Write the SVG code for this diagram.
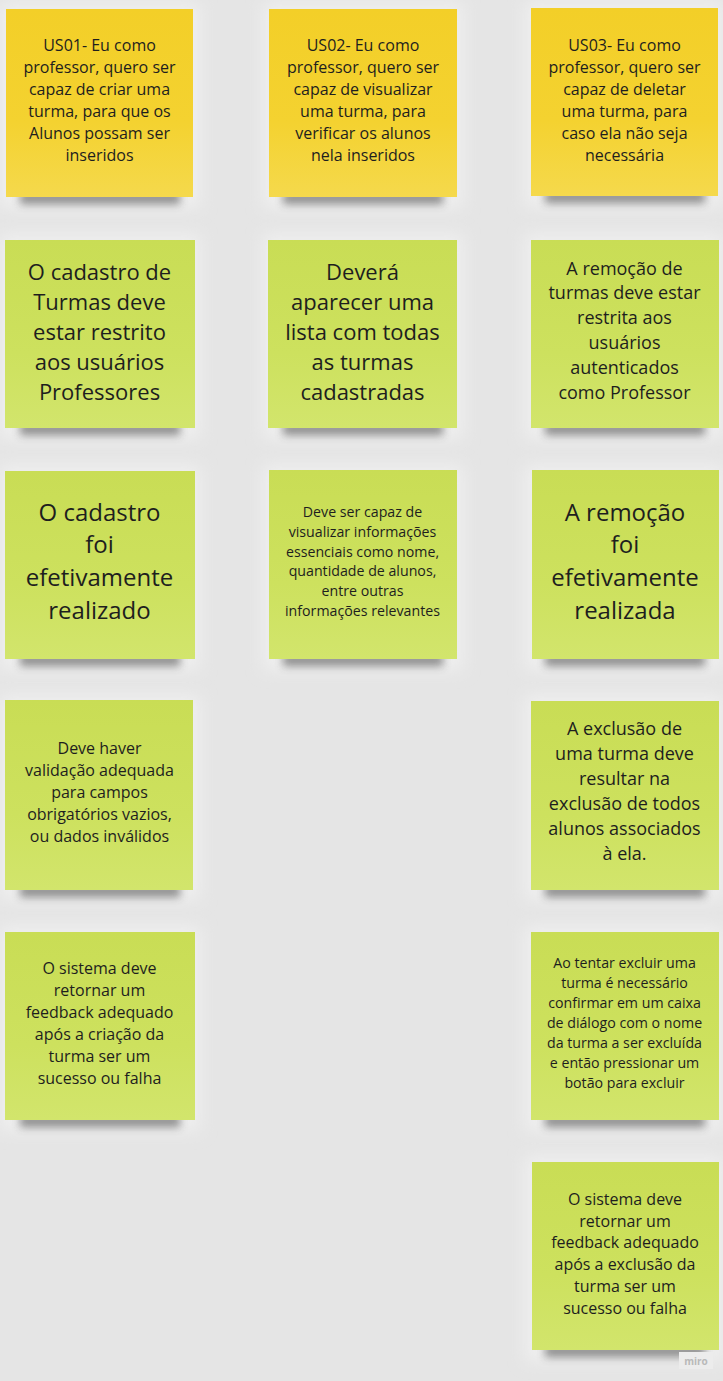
<svg xmlns="http://www.w3.org/2000/svg" width="723" height="1381" viewBox="0 0 723 1381">
<defs>
<linearGradient id="gy" x1="0" y1="0" x2="0" y2="1">
<stop offset="0" stop-color="#f3cf28"/>
<stop offset="0.6" stop-color="#f4d230"/>
<stop offset="1" stop-color="#f5d94c"/>
</linearGradient>
<linearGradient id="gg" x1="0" y1="0" x2="0" y2="1">
<stop offset="0" stop-color="#c9dd55"/>
<stop offset="0.6" stop-color="#cde15e"/>
<stop offset="1" stop-color="#d2e56c"/>
</linearGradient>
<filter id="sh" x="-20%" y="-100%" width="140%" height="300%">
<feGaussianBlur stdDeviation="4"/>
</filter>
<filter id="halo" x="-20%" y="-20%" width="140%" height="140%">
<feGaussianBlur stdDeviation="8"/>
</filter>
</defs>
<style>
.bg{fill:#e5e5e5}
.halo{fill:#efefef;filter:url(#halo)}
.shadow{fill:#3c3c3c;opacity:0.55;filter:url(#sh)}
.y{fill:url(#gy)}
.g{fill:url(#gg)}
text{font-family:"Open Sans","Noto Sans","Liberation Sans",sans-serif;fill:#1e1e1e;text-anchor:middle}
.f16{font-size:16px}
.f22{font-size:22px}
.f18{font-size:18px}
.f24{font-size:24px}
.f14{font-size:14.2px}
.miro{font-size:10px;fill:#b9b9b9;font-weight:bold}
</style>
<rect class="bg" x="0" y="0" width="723" height="1381"/>

<g id="connectors"></g>

<g id="us01">
<rect class="halo" x="0" y="3" width="200" height="205"/>
<rect class="shadow" x="20" y="192" width="160" height="12"/>
<rect class="y" x="6" y="9" width="187" height="188"/>
<text class="f16"><tspan x="99.5" y="51">US01- Eu como</tspan><tspan x="99.5" y="73">professor, quero ser</tspan><tspan x="99.5" y="95">capaz de criar uma</tspan><tspan x="99.5" y="117">turma, para que os</tspan><tspan x="99.5" y="139">Alunos possam ser</tspan><tspan x="99.5" y="161">inseridos</tspan></text>
</g>

<g id="us02">
<rect class="halo" x="263" y="3" width="200" height="205"/>
<rect class="shadow" x="283" y="192" width="160" height="12"/>
<rect class="y" x="269" y="9" width="188" height="188"/>
<text class="f16"><tspan x="363" y="51">US02- Eu como</tspan><tspan x="363" y="73">professor, quero ser</tspan><tspan x="363" y="95">capaz de visualizar</tspan><tspan x="363" y="117">uma turma, para</tspan><tspan x="363" y="139">verificar os alunos</tspan><tspan x="363" y="161">nela inseridos</tspan></text>
</g>

<g id="us03">
<rect class="halo" x="525" y="2" width="198" height="205"/>
<rect class="shadow" x="545" y="191" width="160" height="12"/>
<rect class="y" x="531" y="8" width="187" height="188"/>
<text class="f16"><tspan x="624.5" y="51">US03- Eu como</tspan><tspan x="624.5" y="73">professor, quero ser</tspan><tspan x="624.5" y="95">capaz de deletar</tspan><tspan x="624.5" y="117">uma turma, para</tspan><tspan x="624.5" y="139">caso ela não seja</tspan><tspan x="624.5" y="161">necessária</tspan></text>
</g>

<g id="c1r2">
<rect class="halo" x="0" y="234" width="200" height="205"/>
<rect class="shadow" x="20" y="423" width="160" height="12"/>
<rect class="g" x="5" y="240" width="190" height="188"/>
<text class="f22"><tspan x="99.5" y="280">O cadastro de</tspan><tspan x="99.5" y="310">Turmas deve</tspan><tspan x="99.5" y="340">estar restrito</tspan><tspan x="99.5" y="370">aos usuários</tspan><tspan x="99.5" y="400">Professores</tspan></text>
</g>

<g id="c2r2">
<rect class="halo" x="263" y="234" width="200" height="205"/>
<rect class="shadow" x="283" y="423" width="160" height="12"/>
<rect class="g" x="268" y="240" width="189" height="188"/>
<text class="f22"><tspan x="362.5" y="280">Deverá</tspan><tspan x="362.5" y="310">aparecer uma</tspan><tspan x="362.5" y="340">lista com todas</tspan><tspan x="362.5" y="370">as turmas</tspan><tspan x="362.5" y="400">cadastradas</tspan></text>
</g>

<g id="c3r2">
<rect class="halo" x="525" y="234" width="198" height="205"/>
<rect class="shadow" x="545" y="423" width="160" height="12"/>
<rect class="g" x="531" y="240" width="188" height="188"/>
<text class="f18"><tspan x="624.5" y="274.5">A remoção de</tspan><tspan x="624.5" y="299.3">turmas deve estar</tspan><tspan x="624.5" y="324.1">restrita aos</tspan><tspan x="624.5" y="348.9">usuários</tspan><tspan x="624.5" y="373.7">autenticados</tspan><tspan x="624.5" y="398.5">como Professor</tspan></text>
</g>

<g id="c1r3">
<rect class="halo" x="0" y="465" width="200" height="205"/>
<rect class="shadow" x="20" y="654" width="160" height="12"/>
<rect class="g" x="5" y="471" width="190" height="188"/>
<text class="f24"><tspan x="99.5" y="520.7">O cadastro</tspan><tspan x="99.5" y="553.3">foi</tspan><tspan x="99.5" y="585.9">efetivamente</tspan><tspan x="99.5" y="618.5">realizado</tspan></text>
</g>

<g id="c2r3">
<rect class="halo" x="263" y="465" width="200" height="205"/>
<rect class="shadow" x="283" y="654" width="160" height="12"/>
<rect class="g" x="269" y="470" width="188" height="189"/>
<text class="f14"><tspan x="362.5" y="516.7">Deve ser capaz de</tspan><tspan x="362.5" y="536.6">visualizar informações</tspan><tspan x="362.5" y="556.5">essenciais como nome,</tspan><tspan x="362.5" y="576.4">quantidade de alunos,</tspan><tspan x="362.5" y="596.3">entre outras</tspan><tspan x="362.5" y="616.2">informações relevantes</tspan></text>
</g>

<g id="c3r3">
<rect class="halo" x="525" y="465" width="198" height="205"/>
<rect class="shadow" x="545" y="654" width="160" height="12"/>
<rect class="g" x="532" y="470" width="187" height="189"/>
<text class="f24"><tspan x="625" y="520.7">A remoção</tspan><tspan x="625" y="553.3">foi</tspan><tspan x="625" y="585.9">efetivamente</tspan><tspan x="625" y="618.5">realizada</tspan></text>
</g>

<g id="c1r4">
<rect class="halo" x="0" y="695" width="200" height="205"/>
<rect class="shadow" x="20" y="885" width="160" height="12"/>
<rect class="g" x="5" y="700" width="188" height="190"/>
<text class="f16"><tspan x="99.5" y="754">Deve haver</tspan><tspan x="99.5" y="776">validação adequada</tspan><tspan x="99.5" y="798">para campos</tspan><tspan x="99.5" y="820">obrigatórios vazios,</tspan><tspan x="99.5" y="842">ou dados inválidos</tspan></text>
</g>

<g id="c3r4">
<rect class="halo" x="525" y="695" width="198" height="205"/>
<rect class="shadow" x="545" y="885" width="160" height="12"/>
<rect class="g" x="531" y="701" width="188" height="189"/>
<text class="f18"><tspan x="624.5" y="735.4">A exclusão de</tspan><tspan x="624.5" y="760.4">uma turma deve</tspan><tspan x="624.5" y="785.4">resultar na</tspan><tspan x="624.5" y="810.4">exclusão de todos</tspan><tspan x="624.5" y="835.4">alunos associados</tspan><tspan x="624.5" y="860.4">à ela.</tspan></text>
</g>

<g id="c1r5">
<rect class="halo" x="0" y="926" width="200" height="205"/>
<rect class="shadow" x="20" y="1115" width="160" height="12"/>
<rect class="g" x="5" y="932" width="190" height="188"/>
<text class="f16"><tspan x="99.5" y="973.7">O sistema deve</tspan><tspan x="99.5" y="995.7">retornar um</tspan><tspan x="99.5" y="1017.7">feedback adequado</tspan><tspan x="99.5" y="1039.7">após a criação da</tspan><tspan x="99.5" y="1061.7">turma ser um</tspan><tspan x="99.5" y="1083.7">sucesso ou falha</tspan></text>
</g>

<g id="c3r5">
<rect class="halo" x="525" y="926" width="198" height="205"/>
<rect class="shadow" x="545" y="1115" width="160" height="12"/>
<rect class="g" x="531" y="932" width="188" height="188"/>
<text class="f14"><tspan x="624.5" y="967.7">Ao tentar excluir uma</tspan><tspan x="624.5" y="987.7">turma é necessário</tspan><tspan x="624.5" y="1007.7">confirmar em um caixa</tspan><tspan x="624.5" y="1027.7">de diálogo com o nome</tspan><tspan x="624.5" y="1047.7">da turma a ser excluída</tspan><tspan x="624.5" y="1067.7">e então pressionar um</tspan><tspan x="624.5" y="1087.7">botão para excluir</tspan></text>
</g>

<g id="c3r6">
<rect class="halo" x="525" y="1156" width="198" height="205"/>
<rect class="shadow" x="545" y="1345" width="160" height="12"/>
<rect class="g" x="532" y="1162" width="187" height="188"/>
<text class="f16"><tspan x="625" y="1205">O sistema deve</tspan><tspan x="625" y="1226.7">retornar um</tspan><tspan x="625" y="1248.4">feedback adequado</tspan><tspan x="625" y="1270.1">após a exclusão da</tspan><tspan x="625" y="1291.8">turma ser um</tspan><tspan x="625" y="1313.5">sucesso ou falha</tspan></text>
</g>

<g id="watermark">
<rect x="679" y="1352" width="34" height="17" fill="#ececec"/>
<text class="miro" x="696" y="1364.5">miro</text>
</g>
</svg>
